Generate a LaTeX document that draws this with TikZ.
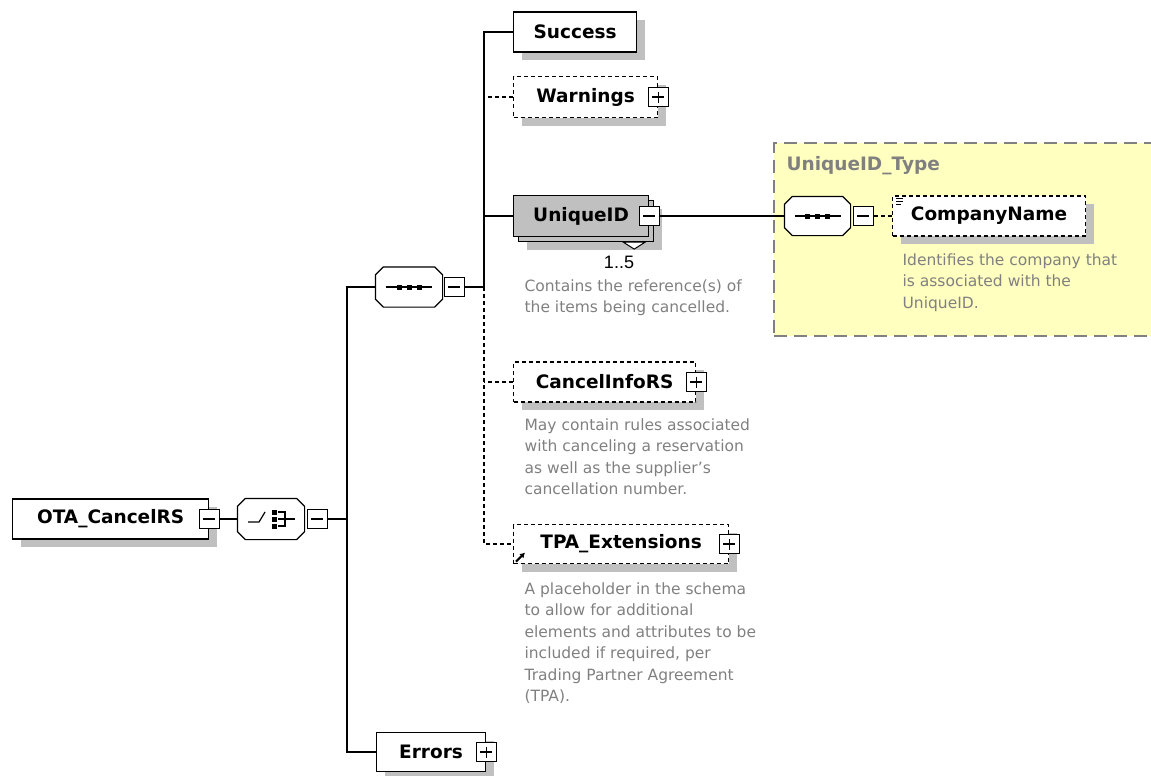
\documentclass[tikz,border=0pt]{standalone}
\usepackage{fontspec}
\setmainfont{DejaVu Sans}
\newfontfamily\numfont{Liberation Sans}
\usetikzlibrary{positioning,calc,shadows,arrows.meta}
\definecolor{shadowgray}{RGB}{192,192,192}
\definecolor{notegray}{RGB}{128,128,128}
\definecolor{typeyellow}{RGB}{255,255,192}

% octagon outline round a compositor node
\newcommand\octapath[2]{%
  \path[#2]
    ($(#1.north west)+(8,0)$) -- ($(#1.north east)+(-8,0)$)
    -- ($(#1.north east)+(0,8)$) -- ($(#1.south east)+(0,-8)$)
    -- ($(#1.south east)+(-8,0)$) -- ($(#1.south west)+(8,0)$)
    -- ($(#1.south west)+(0,-8)$) -- ($(#1.north west)+(0,8)$) -- cycle;
}
\newcommand\drawocta[1]{%
  \octapath{#1}{fill=shadowgray, shift={(8pt,-8pt)}}
  \octapath{#1}{draw, fill=white}
}

\tikzset{
  plainelem/.style={draw, fill=white, anchor=west, inner sep=0,
    minimum height=40, font=\fontsize{18.5}{22}\selectfont\bfseries},
  elem/.style={plainelem, drop shadow={shadow xshift=8pt, shadow yshift=-8pt,
    opacity=1, fill=shadowgray}},
  optelem/.style={elem, dash pattern=on 4pt off 3pt},
  optline/.style={dash pattern=on 4pt off 3pt},
  octa/.style={inner sep=0, minimum width=66, minimum height=39},
  collapsebox/.style={draw, fill=white, minimum width=20, minimum height=19, inner sep=0,
    path picture={\draw ([xshift=4pt]path picture bounding box.west)
      -- ([xshift=-4pt]path picture bounding box.east);}},
  expandbox/.style={draw, fill=white, minimum width=20, minimum height=19, inner sep=0,
    path picture={\draw ([xshift=4pt]path picture bounding box.west)
      -- ([xshift=-4pt]path picture bounding box.east);
      \draw ([yshift=-4pt]path picture bounding box.north)
      -- ([yshift=4pt]path picture bounding box.south);}},
  note/.style={anchor=north west, inner sep=0, align=left, text=notegray,
    font=\fontsize{15.5}{21.5}\selectfont},
  typebox/.style={fill=typeyellow, draw=notegray, line width=1.5pt,
    dash pattern=on 13pt off 7pt, inner sep=0, anchor=north west},
  seqmark/.pic={
    \draw (-23,0) -- (23,0);
    \foreach \dx in {-10,0,10} \fill (\dx-2.5,-2.5) rectangle ++(5,5);
  },
  choicemark/.pic={
    \draw (-23,3) -- (-12,3) -- (-6,-7);
    \foreach \dy in {-7,0,7} \fill (1,\dy-2.5) rectangle ++(5,5);
    \draw (7,-7) -- (14,-7) -- (14,7) -- (7,7);
    \draw (7,0) -- (24,0);
  }
}

\begin{document}
\begin{tikzpicture}[x=1pt, y=-1pt, line width=1.2pt]
  \useasboundingbox (0,0) rectangle (1151,776);

  % complex type area
  \node[typebox, minimum width=385, minimum height=193] (uidtype) at (773,142) {};
  \node[anchor=west, inner sep=0, text=notegray,
    font=\fontsize{18.5}{22}\selectfont\bfseries] (uidtype-title) at (786,166) {UniqueID\_Type};

  % root and choice
  \node[elem, minimum width=196] (root) at (12,519) {OTA\_CancelRS};
  \node[collapsebox] (root-tog) at (root.east) {};
  \node[octa, minimum height=40] (choice) at (271,519) {};
  \drawocta{choice}
  \pic at (choice) {choicemark};
  \node[collapsebox, right=2pt of choice] (choice-tog) {};
  \coordinate (bus1) at (347,519);

  % sequence
  \node[octa] (seq) at (409,287) {};
  \drawocta{seq}
  \pic at (seq) {seqmark};
  \node[collapsebox, right=1pt of seq] (seq-tog) {};
  \coordinate (bus2) at (484,287);

  % children
  \node[elem, minimum width=123] (success) at (513,32) {Success};
  \node[optelem, minimum width=144, minimum height=41] (warnings) at (513,97) {Warnings};
  \node[expandbox] (warnings-tog) at (warnings.east) {};

  \node[elem, fill=shadowgray, minimum width=135, minimum height=41] (uid-back) at (518,221) {};
  \node[plainelem, fill=shadowgray, minimum width=135, minimum height=41] (uid) at (513,216) {UniqueID};
  \node[collapsebox] (uid-tog) at (uid.east) {};
  \draw[fill=white, line width=1pt] ([xshift=-31pt]uid-back.south east)
    -- ([xshift=-9pt]uid-back.south east) -- ([xshift=-20pt,yshift=-7pt]uid-back.south east) -- cycle;
  \node[inner sep=0, font=\numfont\fontsize{18}{20}\selectfont] (uid-mult) at (619,262) {1..5};
  \node[note] (uid-note) at (524,279) {Contains the reference(s) of\\the items being cancelled.};

  \node[optelem, minimum width=182] (cancel) at (513,382) {CancelInfoRS};
  \node[expandbox] (cancel-tog) at (cancel.east) {};
  \node[note] (cancel-note) at (524,418) {May contain rules associated\\with canceling a reservation\\as well as the supplier's\\cancellation number.};

  \node[optelem, minimum width=215, minimum height=39] (tpa) at (513,544) {TPA\_Extensions};
  \node[expandbox] (tpa-tog) at (tpa.east) {};
  \draw[-{Latex[length=5pt,width=6pt]}, line width=2pt]
    ([shift={(3pt,2.5pt)}]tpa.south west) -- ([shift={(12pt,11.5pt)}]tpa.south west);
  \node[note] (tpa-note) at (524,582) {A placeholder in the schema\\to allow for additional\\elements and attributes to be\\included if required, per\\Trading Partner Agreement\\(TPA).};

  \node[elem, minimum width=109, minimum height=39] (errors) at (376,752) {Errors};
  \node[expandbox] (errors-tog) at (errors.east) {};

  % UniqueID_Type content
  \node[octa, minimum width=65, minimum height=38] (cmp-seq) at (817.5,216) {};
  \drawocta{cmp-seq}
  \pic at (cmp-seq) {seqmark};
  \node[collapsebox, right=2pt of cmp-seq] (cmp-tog) {};
  \node[optelem, minimum width=193] (company) at (892,216) {CompanyName};
  \foreach \dy/\len in {3/7,6/7,9/5}
    \draw[line width=0.8pt] ([shift={(4pt,-\dy pt)}]company.north west) -- ++(\len,0);
  \node[note] (cmp-note) at (902,253) {Identifies the company that\\is associated with the\\UniqueID.};

  % connectors
  \draw (root-tog) -- (choice);
  \draw (choice-tog) -- (bus1);
  \draw (seq) -| (bus1) |- (errors);
  \draw (seq-tog) -- (bus2);
  \draw (success) -| (bus2);
  \draw (uid) -- (uid -| bus2);
  \draw[optline] (warnings) -- (warnings -| bus2);
  \draw[optline] (cancel) -- (cancel -| bus2);
  \draw[optline] (bus2) |- (tpa);
  \draw (uid-tog) -- (cmp-seq);
  \draw[optline] (cmp-tog) -- (company);
\end{tikzpicture}
\end{document}
